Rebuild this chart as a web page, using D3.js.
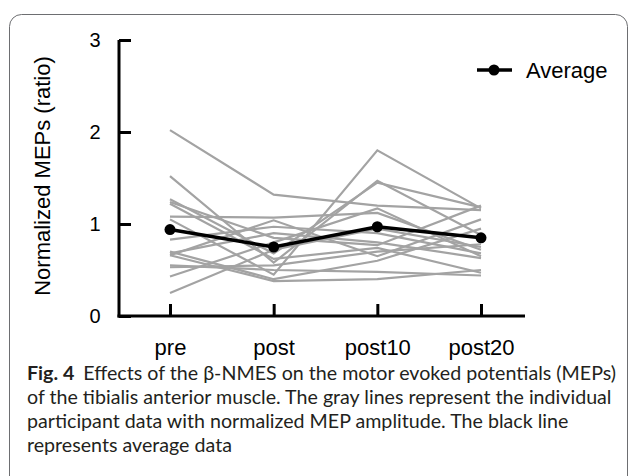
<!DOCTYPE html>
<html lang="en">
<head>
    <script src="https://d3js.org/d3.v7.min.js"></script>
    <style>
        body { margin: 0; background: white; }
        .chart text { font-family: 'Liberation Sans', Arial, sans-serif; }
        text.caption { font-family: Lato, 'Noto Sans', sans-serif; fill: #231f20; }
    </style>
</head>
<body>
<script>
    var width = 629, height = 476;

    // time points and tick labels
    var timepoints = ['pre', 'post', 'post10', 'post20'];
    var yTicks = [0, 1, 2, 3];

    // individual participants (normalized MEP ratio)
    var p1  = [2.02, 1.32, 1.20, 1.15];
    var p2  = [1.52, 0.58, 1.47, 0.88];
    var p3  = [1.27, 0.68, 1.45, 1.18];
    var p4  = [1.24, 0.85, 0.77, 1.20];
    var p5  = [1.22, 0.62, 0.74, 0.47];
    var p6  = [1.08, 1.07, 1.12, 0.72];
    var p7  = [1.05, 0.45, 1.80, 1.17];
    var p8  = [0.83, 0.97, 0.90, 0.68];
    var p9  = [0.70, 0.40, 0.60, 0.95];
    var p10 = [0.68, 0.90, 0.80, 0.63];
    var p11 = [0.66, 1.04, 0.65, 1.05];
    var p12 = [0.66, 0.38, 0.40, 0.50];
    var p13 = [0.55, 0.50, 0.48, 0.44];
    var p14 = [0.53, 0.55, 0.70, 0.78];
    var p15 = [0.43, 0.80, 1.17, 0.65];
    var p16 = [0.25, 0.72, 0.95, 0.75];
    var participants = [p1, p2, p3, p4, p5, p6, p7, p8, p9, p10, p11, p12, p13, p14, p15, p16];

    var average = [0.94, 0.75, 0.97, 0.85];

    var captionBold = 'Fig. 4';
    var captionLines = [
        'Effects of the \u03b2-NMES on the motor evoked potentials (MEPs)',
        'of the tibialis anterior muscle. The gray lines represent the individual',
        'participant data with normalized MEP amplitude. The black line',
        'represents average data'
    ];

    var svg = d3.select('body').append('svg').attr('width', width).attr('height', height);

    // card frame
    svg.append('rect')
        .attr('x', 9.5).attr('y', 14.5)
        .attr('width', 618).attr('height', 500)
        .attr('rx', 12)
        .attr('fill', 'none')
        .attr('stroke', '#6d6e71')
        .attr('stroke-width', 1);

    var chart = svg.append('g').attr('class', 'chart');

    var x = d3.scalePoint().domain(timepoints).range([170, 481]);
    var y = d3.scaleLinear().domain([0, 3]).range([316, 40]);

    // gray individual lines
    var line = d3.line()
        .x(function(d, i) { return x(timepoints[i]); })
        .y(function(d) { return y(d); });

    chart.append('g').selectAll('path')
        .data(participants)
        .join('path')
        .attr('d', line)
        .attr('fill', 'none')
        .attr('stroke', '#a3a3a3')
        .attr('stroke-width', 2.2);

    // average line
    chart.append('path')
        .datum(average)
        .attr('d', line)
        .attr('fill', 'none')
        .attr('stroke', 'black')
        .attr('stroke-width', 3.5);

    chart.append('g').selectAll('circle')
        .data(average)
        .join('circle')
        .attr('cx', function(d, i) { return x(timepoints[i]); })
        .attr('cy', function(d) { return y(d); })
        .attr('r', 5.5)
        .attr('fill', 'black');

    // axes, ticks pointing inward
    var yAxis = chart.append('g')
        .attr('transform', 'translate(119,0)')
        .call(d3.axisRight(y).tickValues(yTicks).tickSize(12).tickFormat(d3.format('d')));
    yAxis.select('.domain').attr('d', 'M0,' + y(3) + 'V' + (y(0) + 1.5)).attr('stroke-width', 3);
    yAxis.selectAll('.tick line').attr('stroke-width', 3);
    yAxis.selectAll('.tick text')
        .attr('x', -24).attr('text-anchor', 'middle')
        .attr('font-size', 20).attr('fill', 'black');

    var xAxis = chart.append('g')
        .attr('transform', 'translate(0,316)')
        .call(d3.axisTop(x).tickSize(12));
    xAxis.select('.domain').attr('d', 'M117.5,0H525').attr('stroke-width', 3);
    xAxis.selectAll('.tick line').attr('stroke-width', 3);
    xAxis.selectAll('.tick text')
        .attr('y', 39).attr('dy', 0)
        .attr('font-size', 22).attr('fill', 'black');

    chart.append('text')
        .attr('transform', 'translate(50,176) rotate(-90)')
        .attr('text-anchor', 'middle')
        .attr('font-size', 22)
        .text('Normalized MEPs (ratio)');

    // legend
    var leg = chart.append('g').attr('transform', 'translate(0,70)');
    leg.append('line').attr('x1', 477).attr('x2', 512).attr('y1', 0).attr('y2', 0)
        .attr('stroke', 'black').attr('stroke-width', 3.5);
    leg.append('circle').attr('cx', 494).attr('cy', 0).attr('r', 5.5).attr('fill', 'black');
    leg.append('text').attr('x', 526).attr('y', 8).attr('font-size', 22).text('Average');

    // caption, sized so the longest line spans the card like the original
    var capSize = 17;
    var capTexts = [];
    var first = svg.append('text').attr('class', 'caption').attr('x', 27).attr('y', 380);
    first.append('tspan').attr('font-weight', 'bold').text(captionBold);
    first.append('tspan').attr('dx', 9).text(captionLines[0]);
    capTexts.push(first);
    captionLines.slice(1).forEach(function(t, i) {
        capTexts.push(svg.append('text').attr('class', 'caption')
            .attr('x', 27).attr('y', 404 + i * 24).text(t));
    });
    capTexts.forEach(function(t) { t.attr('font-size', capSize); });
    var w = capTexts[1].node().getComputedTextLength();
    var fit = capSize * 585 / w;
    capTexts.forEach(function(t) { t.attr('font-size', fit); });
</script>
</body>
</html>
